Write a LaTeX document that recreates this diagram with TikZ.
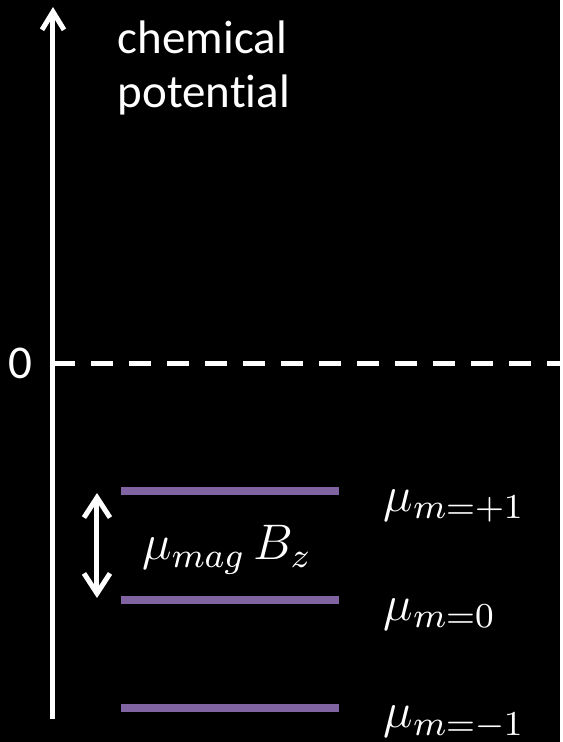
\documentclass[tikz,border=0pt]{standalone}
\usepackage{fix-cm}
\usepackage{fontspec}
\setmainfont{Carlito}[Ligatures=NoCommon]
\usetikzlibrary{arrows.meta}
\definecolor{levelpurple}{HTML}{8064A2}
\tikzset{
  axisline/.style={white, line width=1.25pt, -{Straight Barb[length=4.5pt,width=5.5pt]}},
  levelline/.style={levelpurple, line width=2pt},
  splitarrow/.style={white, line width=1.25pt,
    {Straight Barb[length=5pt,width=6.5pt]}-{Straight Barb[length=5pt,width=6.5pt]}},
  txtlabel/.style={text=white, font=\fontsize{11.75}{13.5}\selectfont, inner sep=0pt},
  mathlabel/.style={text=white, font=\fontsize{12.5}{15}\selectfont, inner sep=0pt},
}
\begin{document}
\begin{tikzpicture}[x=0.25pt, y=0.25pt]
    % 1. Nền đen
    \fill[black] (0,0) rectangle (560,742);

    % 2. Trục thế hóa học
    \coordinate (axisbot) at (53,23);
    \coordinate (axistop) at (53,735);
    \draw[axisline] (axisbot) -- (axistop);
    \node[txtlabel, anchor=north west, align=left] (title) at (117,722) {chemical\\potential};

    % 3. Mức 0 đứt nét
    \node[txtlabel] (zero) at (20,379) {0};
    \coordinate (zeroL) at (53,379);
    \coordinate (zeroR) at (560,379);
    \draw[white, line width=1.25pt, dash pattern=on 5.5pt off 4pt] (zeroL) -- (zeroR);

    % 4. Các mức m = +1, 0, -1
    \foreach \ly/\tag/\sub in {251/p/{+1}, 142/o/0, 34/m/{-1}} {
        \draw[levelline] (121,\ly) coordinate (lev\tag L) -- (339,\ly) coordinate (lev\tag R);
        \node[mathlabel, anchor=base west] (mu\tag) at (383,\ly-20) {$\mu_{m=\sub}$};
    }

    % 5. Khoảng tách Zeeman
    \coordinate (gaptop) at (97,249);
    \coordinate (gapbot) at (97,144);
    \draw[splitarrow] (gapbot) -- (gaptop);
    \node[mathlabel, anchor=base] (gap) at (227,182) {$\mu_{mag}\,B_z$};
\end{tikzpicture}
\end{document}
